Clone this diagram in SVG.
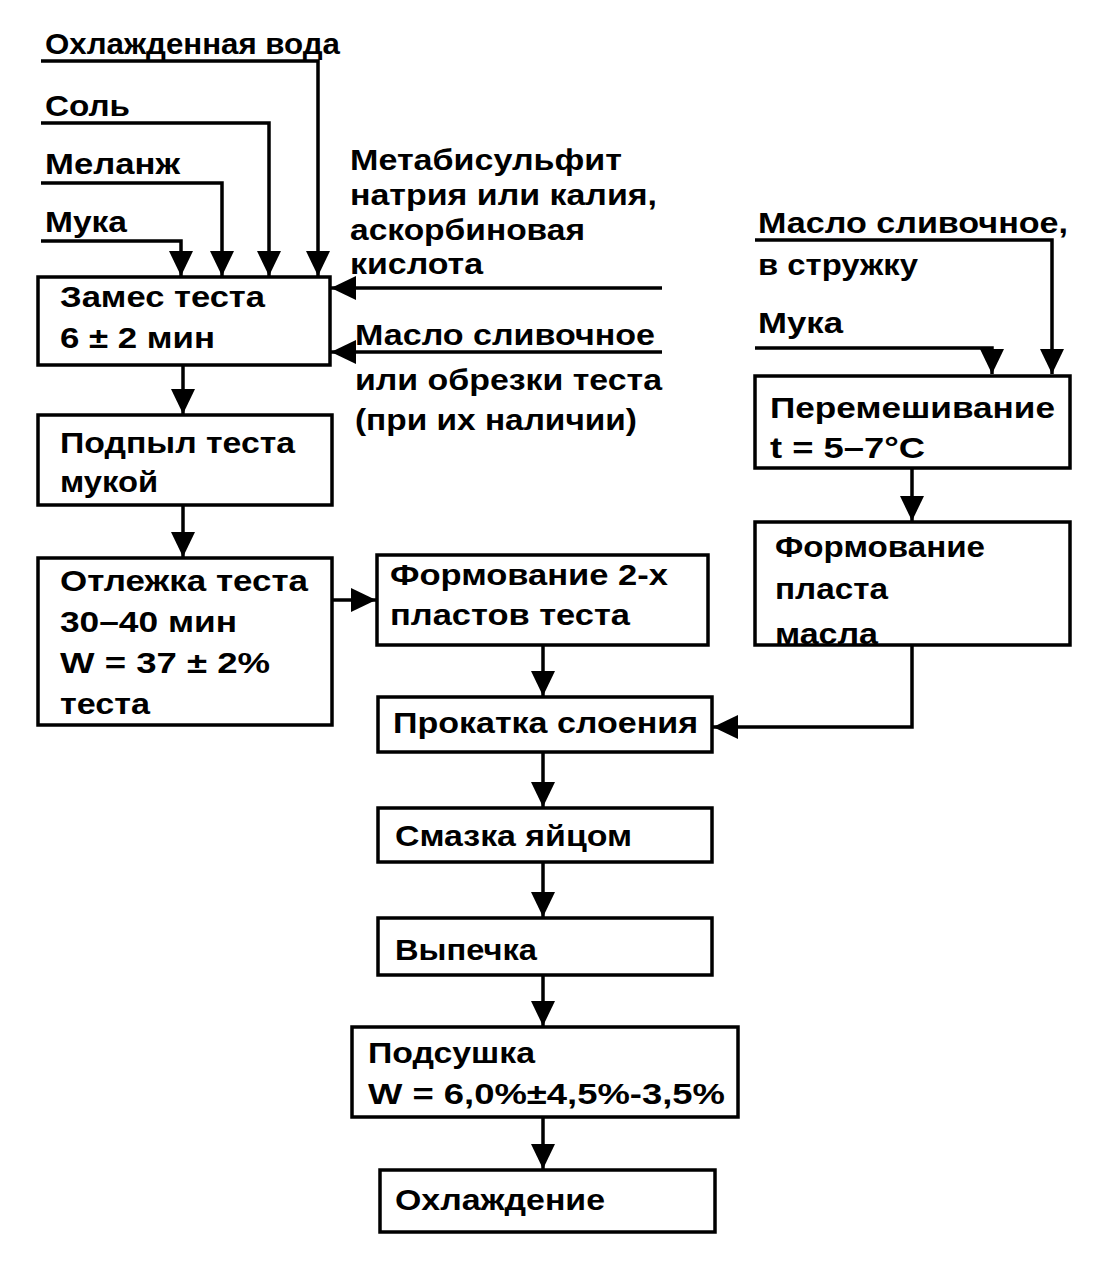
<svg xmlns="http://www.w3.org/2000/svg" width="1111" height="1270" viewBox="0 0 1111 1270">
<style>
.t{font-family:"Liberation Sans",Arial,sans-serif;font-weight:bold;font-size:30px;fill:#000}
.b{fill:#fff;stroke:#000;stroke-width:3.5}
.c{fill:none;stroke:#000;stroke-width:3.5}
</style>
<defs>
<marker id="ar" markerUnits="userSpaceOnUse" markerWidth="26" markerHeight="24" refX="25" refY="12" orient="auto">
<path d="M0,0 L25,12 L0,24 z" fill="#000"/>
</marker>
</defs>
<rect width="1111" height="1270" fill="#fff"/>
<g id="connectors">
<path class="c" d="M41,61 H318 V276" marker-end="url(#ar)"/>
<path class="c" d="M41,123 H269 V276" marker-end="url(#ar)"/>
<path class="c" d="M41,183 H222 V276" marker-end="url(#ar)"/>
<path class="c" d="M41,241 H181 V276" marker-end="url(#ar)"/>
<path class="c" d="M662,288 H331" marker-end="url(#ar)"/>
<path class="c" d="M662,352 H331" marker-end="url(#ar)"/>
<path class="c" d="M183,365 V414" marker-end="url(#ar)"/>
<path class="c" d="M183,505 V557" marker-end="url(#ar)"/>
<path class="c" d="M332,600 H376" marker-end="url(#ar)"/>
<path class="c" d="M543,645 V696" marker-end="url(#ar)"/>
<path class="c" d="M912,645 V727 H713" marker-end="url(#ar)"/>
<path class="c" d="M543,752 V807" marker-end="url(#ar)"/>
<path class="c" d="M543,862 V917" marker-end="url(#ar)"/>
<path class="c" d="M543,975 V1026" marker-end="url(#ar)"/>
<path class="c" d="M543,1117 V1169" marker-end="url(#ar)"/>
<path class="c" d="M755,240 H1052 V374" marker-end="url(#ar)"/>
<path class="c" d="M755,348 H992 V374" marker-end="url(#ar)"/>
<path class="c" d="M912,468 V521" marker-end="url(#ar)"/>
</g>
<g id="inputs">
<text class="t" x="45" y="54" textLength="295" lengthAdjust="spacingAndGlyphs">Охлажденная вода</text>
<text class="t" x="45" y="116" textLength="85" lengthAdjust="spacingAndGlyphs">Соль</text>
<text class="t" x="45" y="174" textLength="135" lengthAdjust="spacingAndGlyphs">Меланж</text>
<text class="t" x="45" y="232" textLength="82" lengthAdjust="spacingAndGlyphs">Мука</text>
<text class="t" x="350" y="170" textLength="272" lengthAdjust="spacingAndGlyphs">Метабисульфит</text>
<text class="t" x="350" y="205" textLength="307" lengthAdjust="spacingAndGlyphs">натрия или калия,</text>
<text class="t" x="350" y="240" textLength="235" lengthAdjust="spacingAndGlyphs">аскорбиновая</text>
<text class="t" x="350" y="274" textLength="133" lengthAdjust="spacingAndGlyphs">кислота</text>
<text class="t" x="355" y="345" textLength="300" lengthAdjust="spacingAndGlyphs">Масло сливочное</text>
<text class="t" x="355" y="390" textLength="307" lengthAdjust="spacingAndGlyphs">или обрезки теста</text>
<text class="t" x="355" y="430" textLength="282" lengthAdjust="spacingAndGlyphs">(при их наличии)</text>
<text class="t" x="758" y="233" textLength="310" lengthAdjust="spacingAndGlyphs">Масло сливочное,</text>
<text class="t" x="758" y="275" textLength="160" lengthAdjust="spacingAndGlyphs">в стружку</text>
<text class="t" x="758" y="333" textLength="85" lengthAdjust="spacingAndGlyphs">Мука</text>
</g>
<g id="n_zames">
<rect class="b" x="38" y="277" width="292" height="88"/>
<text class="t" x="60" y="307" textLength="205" lengthAdjust="spacingAndGlyphs">Замес теста</text>
<text class="t" x="60" y="348" textLength="155" lengthAdjust="spacingAndGlyphs">6 ± 2 мин</text>
</g>
<g id="n_podpyl">
<rect class="b" x="38" y="415" width="294" height="90"/>
<text class="t" x="60" y="453" textLength="235" lengthAdjust="spacingAndGlyphs">Подпыл теста</text>
<text class="t" x="60" y="492" textLength="98" lengthAdjust="spacingAndGlyphs">мукой</text>
</g>
<g id="n_otlezhka">
<rect class="b" x="38" y="558" width="294" height="167"/>
<text class="t" x="60" y="591" textLength="248" lengthAdjust="spacingAndGlyphs">Отлежка теста</text>
<text class="t" x="60" y="632" textLength="177" lengthAdjust="spacingAndGlyphs">30–40 мин</text>
<text class="t" x="60" y="673" textLength="210" lengthAdjust="spacingAndGlyphs">W = 37 ± 2%</text>
<text class="t" x="60" y="714" textLength="90" lengthAdjust="spacingAndGlyphs">теста</text>
</g>
<g id="n_form2">
<rect class="b" x="377" y="555" width="331" height="90"/>
<text class="t" x="390" y="585" textLength="278" lengthAdjust="spacingAndGlyphs">Формование 2-х</text>
<text class="t" x="390" y="625" textLength="240" lengthAdjust="spacingAndGlyphs">пластов теста</text>
</g>
<g id="n_prokatka">
<rect class="b" x="378" y="697" width="334" height="55"/>
<text class="t" x="393" y="733" textLength="305" lengthAdjust="spacingAndGlyphs">Прокатка слоения</text>
</g>
<g id="n_smazka">
<rect class="b" x="378" y="808" width="334" height="54"/>
<text class="t" x="395" y="846" textLength="237" lengthAdjust="spacingAndGlyphs">Смазка яйцом</text>
</g>
<g id="n_vypechka">
<rect class="b" x="378" y="918" width="334" height="57"/>
<text class="t" x="395" y="960" textLength="142" lengthAdjust="spacingAndGlyphs">Выпечка</text>
</g>
<g id="n_podsushka">
<rect class="b" x="352" y="1027" width="386" height="90"/>
<text class="t" x="368" y="1063" textLength="167" lengthAdjust="spacingAndGlyphs">Подсушка</text>
<text class="t" x="368" y="1104" textLength="357" lengthAdjust="spacingAndGlyphs">W = 6,0%±4,5%-3,5%</text>
</g>
<g id="n_ohlazhdenie">
<rect class="b" x="380" y="1170" width="335" height="62"/>
<text class="t" x="395" y="1210" textLength="210" lengthAdjust="spacingAndGlyphs">Охлаждение</text>
</g>
<g id="n_peremesh">
<rect class="b" x="755" y="376" width="315" height="92"/>
<text class="t" x="770" y="418" textLength="285" lengthAdjust="spacingAndGlyphs">Перемешивание</text>
<text class="t" x="770" y="458" textLength="155" lengthAdjust="spacingAndGlyphs">t = 5–7°C</text>
</g>
<g id="n_formmasla">
<rect class="b" x="755" y="522" width="315" height="123"/>
<text class="t" x="775" y="557" textLength="210" lengthAdjust="spacingAndGlyphs">Формование</text>
<text class="t" x="775" y="599" textLength="113" lengthAdjust="spacingAndGlyphs">пласта</text>
<text class="t" x="775" y="644" textLength="103" lengthAdjust="spacingAndGlyphs">масла</text>
</g>
</svg>
